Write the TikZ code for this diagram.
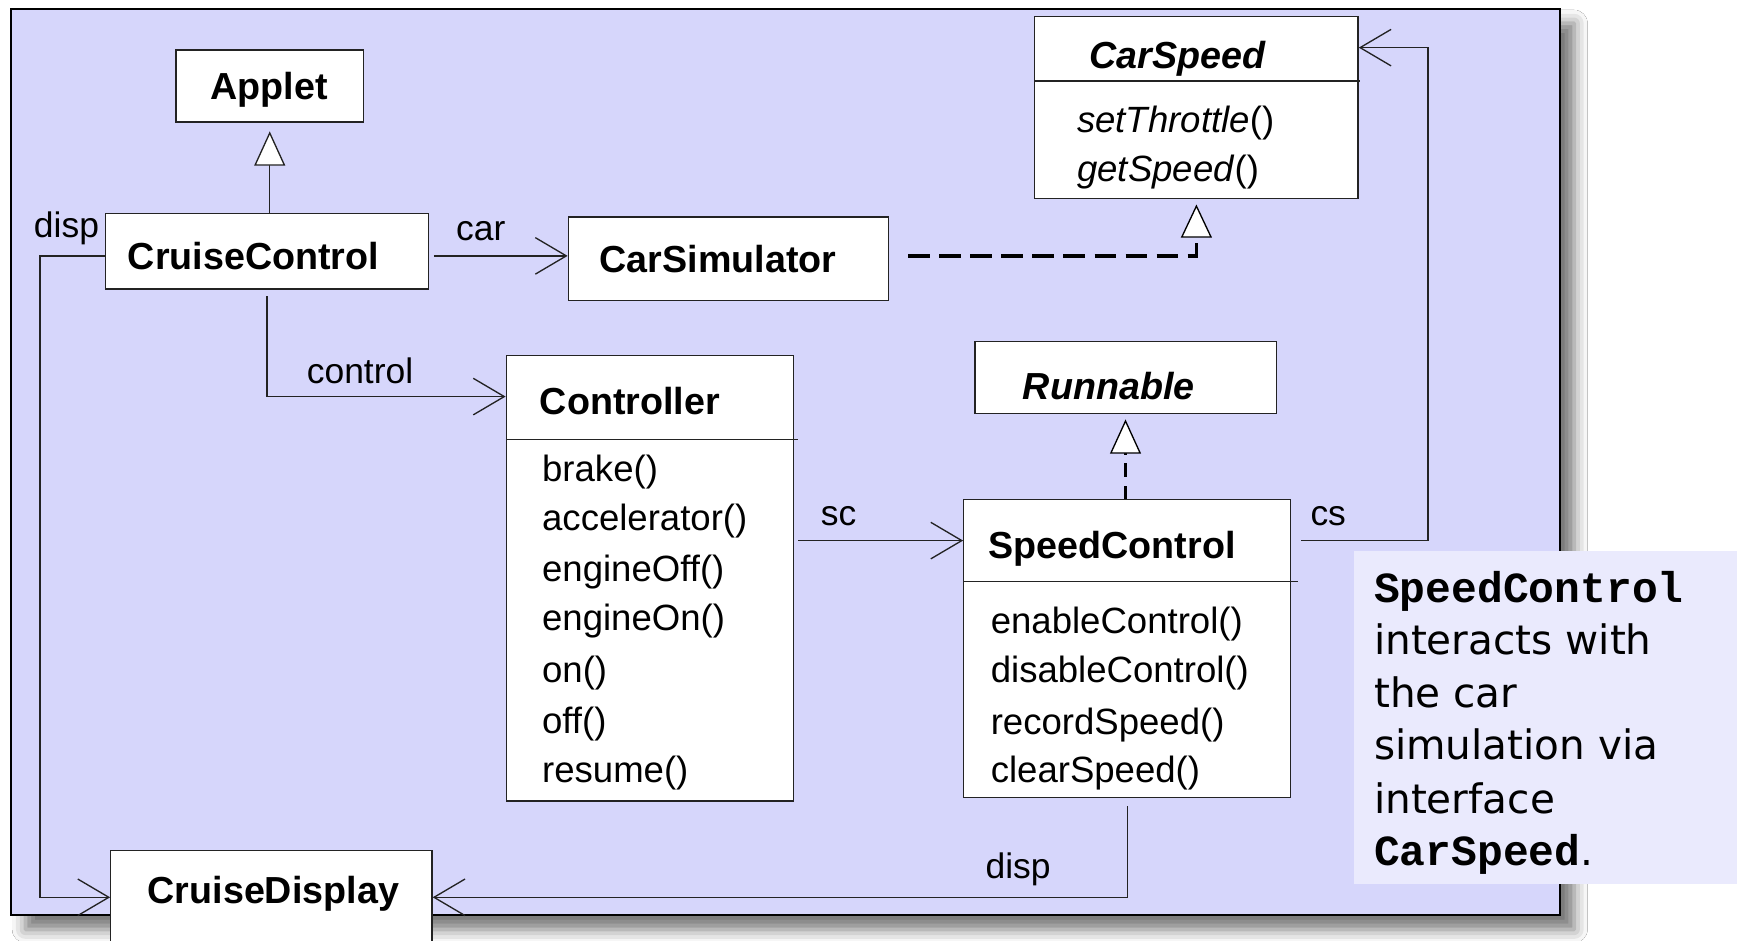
\documentclass[tikz,border=0pt]{standalone}
\usepackage{fontspec}
\setmainfont{Liberation Sans}
\newfontfamily\notefont{DejaVu Sans}
\newfontfamily\codefont{Liberation Mono}
\usetikzlibrary{arrows.meta,shadows.blur}
\definecolor{panelfill}{RGB}{214,214,251}
\definecolor{notefill}{RGB}{234,234,253}
\definecolor{umlline}{RGB}{35,35,35}
\begin{document}
\begin{tikzpicture}[x=0.5pt,y=-0.5pt,
  box/.style={draw=umlline,line width=0.6pt,fill=white,inner sep=0pt},
  ttl/.style={font=\fontsize{17}{20}\selectfont\bfseries,inner sep=0pt,anchor=base west},
  ttli/.style={font=\fontsize{17}{20}\selectfont\bfseries\itshape,inner sep=0pt,anchor=base west},
  mth/.style={font=\fontsize{16.5}{20}\selectfont,inner sep=0pt,anchor=base west},
  lbl/.style={font=\fontsize{16}{20}\selectfont,inner sep=0pt,anchor=base},
  ntxt/.style={font=\notefont\fontsize{18.3}{22}\selectfont,inner sep=0pt,anchor=base west},
  assoc/.style={draw=umlline,line width=0.6pt,
    -{Straight Barb[length=14pt,width=16.5pt,line width=0.6pt]}},
  gen/.style={draw=umlline,line width=0.6pt,
    -{Triangle[open,fill=white,length=15.5pt,width=14pt,line width=0.6pt]}},
  realize/.style={draw=black,line width=1.6pt,dash pattern=on 9.8pt off 4.2pt,
    -{Triangle[open,fill=white,length=15pt,width=14pt,line width=0.6pt]}},
  realizethin/.style={draw=black,line width=1.1pt,dash pattern=on 6pt off 4pt,
    -{Triangle[open,fill=white,length=15.5pt,width=14pt,line width=0.6pt]}},
  divider/.style={draw=umlline,line width=0.6pt}
]
\useasboundingbox (0,0) rectangle (1568,849);
\fill[white] (0,0) rectangle (1568,849);
\clip (0,0) rectangle (1568,849);

% panel with drop shadow
\draw[line width=1.1pt,fill=panelfill,
  blur shadow={shadow xshift=6.5pt,shadow yshift=-6.5pt,shadow blur radius=6pt,shadow opacity=55}]
  (10,8) rectangle (1408,826);

% helper rows and columns for connector routing
\coordinate (yCar) at (0,231);
\coordinate (yCtl) at (0,358);
\coordinate (ySc)  at (0,488);
\coordinate (yCs)  at (0,43);
\coordinate (yBot) at (0,810);
\coordinate (xL)   at (36,0);
\coordinate (xR)   at (1289,0);
\coordinate (dashStart) at (820,231);

% classes
\node[box,minimum width=84.5pt,minimum height=32.5pt] (Applet) at (243.5,77.5) {};
\node[ttl,anchor=base] (tApplet) at (243,90) {Applet};

\node[box,minimum width=146pt,minimum height=34pt] (CC) at (241,227) {};
\node[ttl] (tCC) at (115,243) {CruiseControl};

\node[box,minimum width=144.5pt,minimum height=37.5pt] (CarSim) at (657.5,233.5) {};
\node[ttl] (tCarSim) at (541,246) {CarSimulator};

\node[box,minimum width=146pt,minimum height=82pt] (CarSpeed) at (1080,97) {};
\draw[divider] (934,73) -- (1228,73);
\node[ttli] (tCarSpeed) at (983,62) {CarSpeed};
\node[mth] (mSetT) at (972,120) {\textit{setThrottle}()};
\node[mth] (mGetS) at (972,164) {\textit{getSpeed}()};

\node[box,minimum width=136pt,minimum height=32.5pt] (Runnable) at (1016,340.5) {};
\node[ttli] (tRunnable) at (923,361) {Runnable};

\node[box,minimum width=129.5pt,minimum height=201pt] (Ctl) at (586.5,522) {};
\draw[divider] (457,397) -- (720,397);
\node[ttl] (tCtl) at (487,374) {Controller};
\node[mth] (m1) at (489,435) {brake()};
\node[mth] (m2) at (489,479) {accelerator()};
\node[mth] (m3) at (489,525) {engineOff()};
\node[mth] (m4) at (489,569) {engineOn()};
\node[mth] (m5) at (489,616) {on()};
\node[mth] (m6) at (489,662) {off()};
\node[mth] (m7) at (489,706) {resume()};

\node[box,minimum width=147.5pt,minimum height=134.5pt] (SC) at (1017.5,585.5) {};
\draw[divider] (870,525) -- (1172,525);
\node[ttl] (tSC) at (892,504) {SpeedControl};
\node[mth] (s1) at (894,572) {enableControl()};
\node[mth] (s2) at (894,616) {disableControl()};
\node[mth] (s3) at (894,663) {recordSpeed()};
\node[mth] (s4) at (894,706) {clearSpeed()};

\node[box,minimum width=145pt,minimum height=66pt] (CD) at (245,834) {};
\node[ttl] (tCD) at (133,816) {CruiseDisplay};

% connectors
\draw[gen,shorten >=4pt] (Applet.south |- CC.north) -- (Applet.south);
\draw[assoc,shorten <=2pt] (CC.east |- yCar) -- (CarSim.west |- yCar);
\draw[realize,shorten >=2.5pt] (dashStart) -| (CarSpeed.south);
\draw[assoc,shorten <=3pt] (CC.south) |- (Ctl.west |- yCtl);
\draw[assoc,shorten <=2pt] (Ctl.east |- ySc) -- (SC.west |- ySc);
\draw[realizethin,shorten >=2.5pt] (Runnable.south |- SC.north) -- (Runnable.south);
\draw[assoc,shorten <=4.5pt] (SC.east |- ySc) -| (xR |- yCs) -- (CarSpeed.east |- yCs);
\draw[assoc,shorten <=3.5pt] (SC.south) |- (CD.east |- yBot);
\draw[assoc] (CC.west |- yCar) -- (xL |- yCar) -- (xL |- yBot) -- (CD.west |- yBot);

% role names
\node[lbl] (lDisp1) at (60,214) {disp};
\node[lbl] (lCar) at (434,217) {car};
\node[lbl] (lCtl) at (325,346) {control};
\node[lbl] (lSc) at (757,474) {sc};
\node[lbl] (lCs) at (1199,474) {cs};
\node[lbl] (lDisp2) at (919,793) {disp};

% note
\node[fill=notefill,inner sep=0pt,minimum width=173pt,minimum height=150.5pt] (note) at (1395,647.5) {};
\node[ntxt] (n1) at (1240,544) {{\codefont\bfseries\fontsize{19.4}{22}\selectfont SpeedControl}};
\node[ntxt] (n2) at (1240,591) {interacts with};
\node[ntxt] (n3) at (1240,639) {the car};
\node[ntxt] (n4) at (1240,686) {simulation via};
\node[ntxt] (n5) at (1240,734) {interface};
\node[ntxt] (n6) at (1240,781) {{\codefont\bfseries\fontsize{19.4}{22}\selectfont CarSpeed}.};
\end{tikzpicture}
\end{document}
